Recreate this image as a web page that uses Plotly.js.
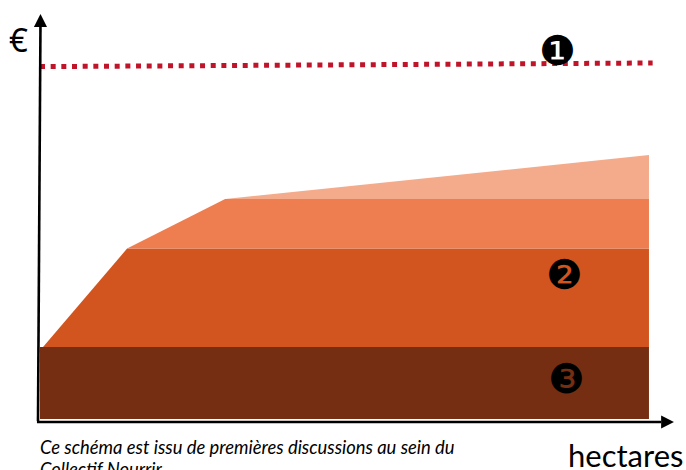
<!DOCTYPE html>
<html><head><meta charset="utf-8">
<script src="https://cdn.plot.ly/plotly-3.0.1.min.js"></script>
<style>html,body{margin:0;padding:0;background:#fff;overflow:hidden}</style>
</head><body><div id="chart" style="width:686px;height:470px"></div>
<script>
// Values, in arbitrary hectares / euro units
const baseX = [0, 100, 100, 0];
const baseY = [0, 0, 18, 18];
const secondX = [0.5, 14.3, 100, 100];
const secondY = [18, 42.6, 42.6, 18];
const thirdX = [14.3, 30.4, 100, 100];
const thirdY = [42.6, 55, 55, 42.6];
const fourthX = [30.4, 100, 100];
const fourthY = [55, 66, 55];
const ceilingX = [0, 100.6];
const ceilingY = [88.1, 89];
const euroAxisX = [-0.33, 0.08];
const euroAxisY = [-0.5, 99];
const euroHeadX = [-1, 0.08, 1.15];
const euroHeadY = [98, 101.25, 98];
const haAxisX = [-0.5, 102];
const haAxisY = [-0.75, -0.75];
const haHeadX = [102, 104.1, 102];
const haHeadY = [0.9, -0.75, -2.4];
const markerLabels = ['❶', '❷', '❸'];
const markerX = [85.06, 86.2, 86.4];
const markerY = [92, 36.1, 10.1];
const captionLines = ['Ce schéma est issu de premières discussions au sein du', 'Collectif Nourrir'];
const captionY = [-7, -12.6];

const area = (x, y, color) => ({x, y, type:'scatter', mode:'none', fill:'toself', fillcolor:color, hoverinfo:'skip', showlegend:false});
const line = (x, y, color, width, dash) => ({x, y, type:'scatter', mode:'lines', line:{color, width, dash:dash||'solid'}, hoverinfo:'skip', showlegend:false});

const traces = [
  area(baseX, baseY, '#752e12'),
  area(secondX, secondY, '#d2541e'),
  area(thirdX, thirdY, '#ee7d4f'),
  area(fourthX, fourthY, '#f4ab8c'),
  line(ceilingX, ceilingY, '#c0142a', 5, '5px,5.67px'),
  line(euroAxisX, euroAxisY, '#000', 2.6),
  area(euroHeadX, euroHeadY, '#000'),
  line(haAxisX, haAxisY, '#000', 2.4),
  area(haHeadX, haHeadY, '#000')
];

const annotations = [
  ...markerLabels.map((t, i) => ({text:t, x:markerX[i], y:markerY[i], xref:'x', yref:'y', showarrow:false,
    font:{family:'DejaVu Sans', size:41, color:'#000'}})),
  {text:'€', x:-3.6, y:95, xref:'x', yref:'y', showarrow:false, font:{family:'Noto Sans', size:33, color:'#000'}},
  {text:'hectares', x:96.2, y:-9.0, xref:'x', yref:'y', showarrow:false, font:{family:'Lato', size:31, color:'#000'}},
  ...captionLines.map((t, i) => ({text:'<i>'+t+'</i>', x:-0.35, y:captionY[i], xref:'x', yref:'y', xanchor:'left', showarrow:false,
    font:{family:'Lato', size:18.4, color:'#000'}}))
];

const hidden = {visible:false, fixedrange:true};
Plotly.newPlot('chart', traces, {
  width:686, height:470, margin:{l:0, r:0, t:0, b:0},
  paper_bgcolor:'#fff', plot_bgcolor:'#fff', showlegend:false,
  xaxis:{...hidden, range:[-6.568, 106.08]},
  yaxis:{...hidden, range:[-12.75, 104.75]},
  annotations
}, {displayModeBar:false, staticPlot:true});
</script></body></html>
